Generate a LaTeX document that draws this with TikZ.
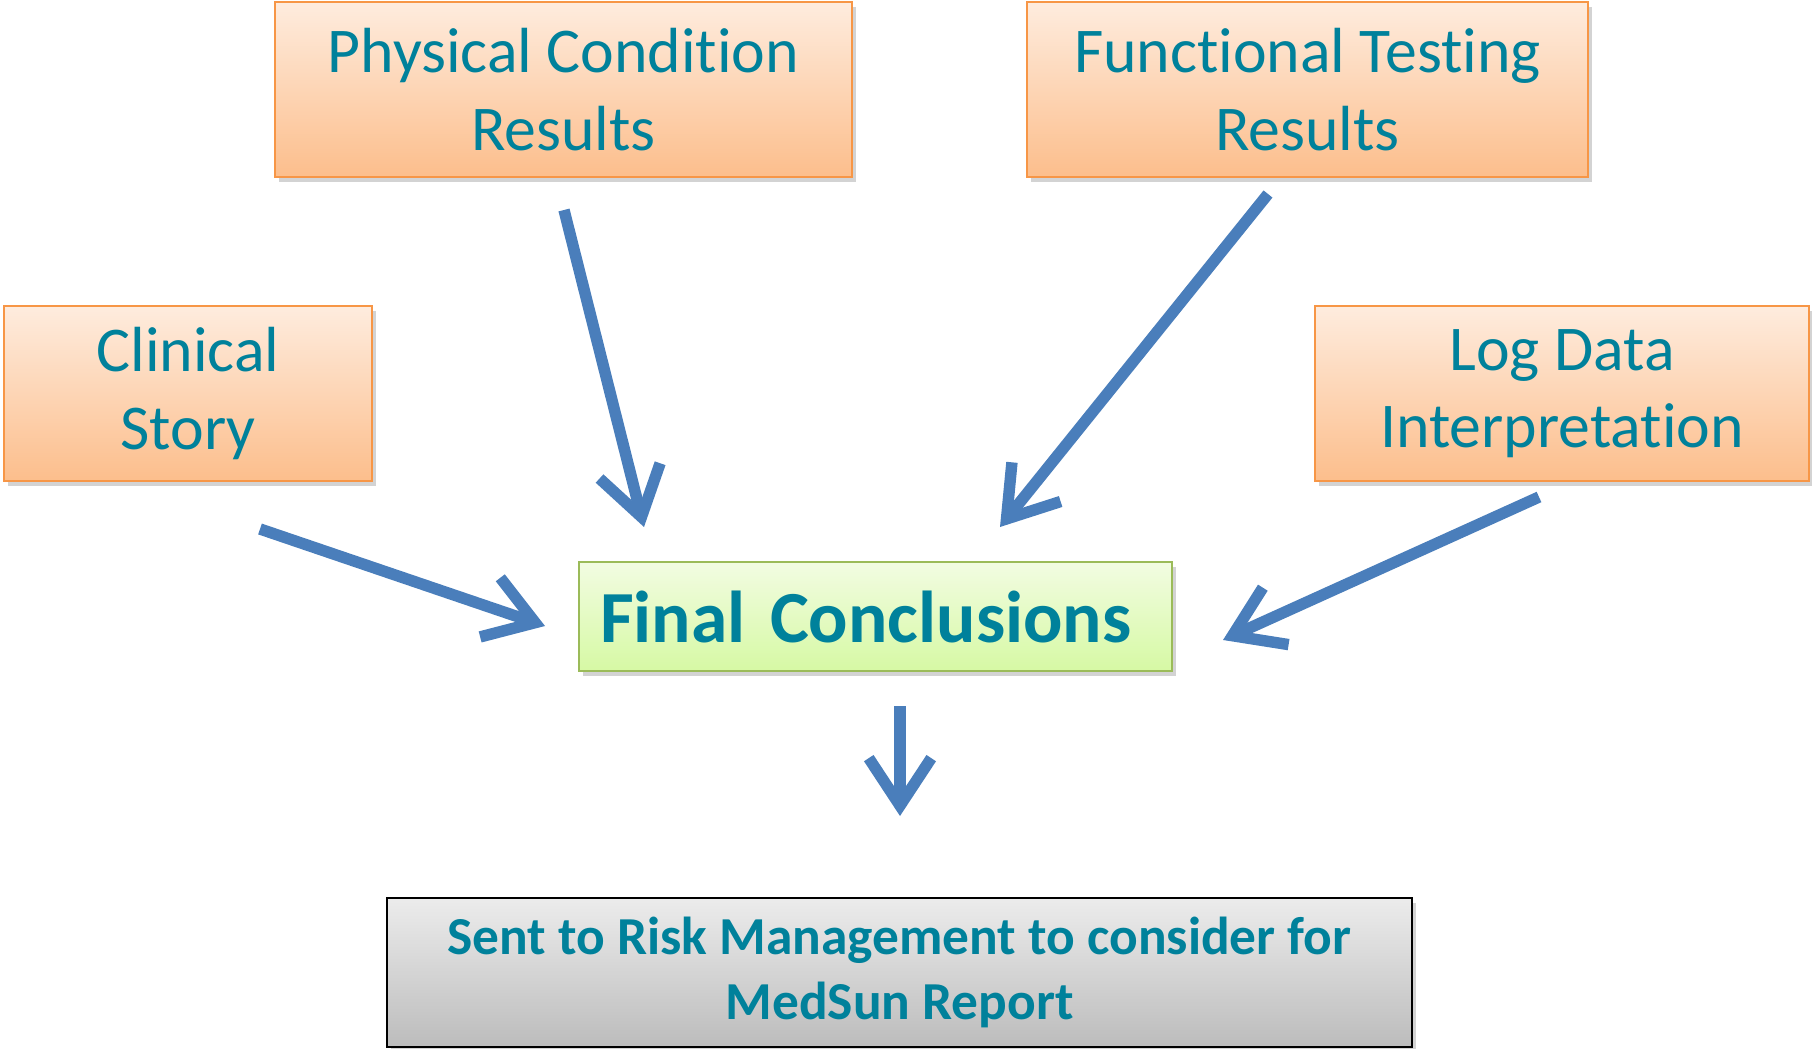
\documentclass[tikz,border=0pt]{standalone}
\usepackage{fontspec}
\setmainfont{Carlito}[Ligatures=NoCommon]
\usetikzlibrary{arrows.meta,shadows}
\definecolor{txt}{RGB}{0,129,155}
\definecolor{orbord}{RGB}{247,150,70}
\definecolor{ortop}{RGB}{254,236,222}
\definecolor{orbot}{RGB}{252,190,140}
\definecolor{grtop}{RGB}{242,252,226}
\definecolor{grbot}{RGB}{214,249,164}
\definecolor{grbord}{RGB}{155,187,89}
\definecolor{gytop}{RGB}{236,236,236}
\definecolor{gybot}{RGB}{188,188,188}
\definecolor{arr}{RGB}{74,126,187}
\tikzset{
  obox/.style={draw=orbord, line width=1.2pt, top color=ortop, bottom color=orbot,
    text=txt, align=center, font=\fontsize{36.3}{44}\selectfont, inner sep=0pt,
    drop shadow={shadow xshift=2pt, shadow yshift=-3pt, opacity=0.35}},
  barrow/.style={draw=arr, line width=6.5pt,
    -{Straight Barb[length=0.95cm, width=1.25cm]}},
}
\begin{document}
\begin{tikzpicture}[x=0.02cm, y=-0.02cm]
\useasboundingbox (0,0) rectangle (1812,1048);
\node[obox, minimum width=577*0.02cm, minimum height=175*0.02cm] (phys) at (563.5,89.5)
  {Physical Condition\\Results};
\node[obox, minimum width=561*0.02cm, minimum height=175*0.02cm] (func) at (1307.5,89.5)
  {Functional Testing\\Results};
\node[obox, minimum width=368*0.02cm, minimum height=175*0.02cm] (clin) at (188,393.5)
  {Clinical\\Story};
\node[obox, minimum width=494*0.02cm, minimum height=175*0.02cm] (logd) at (1562,393.5)
  {Log Data\\Interpretation};
\node[draw=grbord, line width=1.2pt, top color=grtop, bottom color=grbot,
  text=txt, font=\fontsize{41.8}{48}\selectfont\bfseries,
  minimum height=109*0.02cm, text width=551*0.02cm, inner xsep=21*0.02cm, align=left,
  drop shadow={shadow xshift=2pt, shadow yshift=-3pt, opacity=0.35}] (final) at (875.5,616.5)
  {Final Conclusions};
\node[draw=black, line width=1.2pt, top color=gytop, bottom color=gybot,
  text=txt, font=\fontsize{30.4}{37}\selectfont\bfseries, align=center,
  minimum width=1025*0.02cm, minimum height=149*0.02cm,
  drop shadow={shadow xshift=2pt, shadow yshift=-3pt, opacity=0.35}] (sent) at (899.5,972.5)
  {Sent to Risk Management to consider for\\MedSun Report};
\coordinate (p1) at (564,210);  \coordinate (p2) at (644,527);
\coordinate (f1) at (1268,194); \coordinate (f2) at (1000,527);
\coordinate (c1) at (260,529);  \coordinate (c2) at (545,626);
\coordinate (l1) at (1539,497); \coordinate (l2) at (1223,640);
\coordinate (d1) at (900,706);  \coordinate (d2) at (900,816);
\draw[barrow] (p1) -- (p2);
\draw[barrow] (f1) -- (f2);
\draw[barrow] (c1) -- (c2);
\draw[barrow] (l1) -- (l2);
\draw[barrow] (d1) -- (d2);
\end{tikzpicture}
\end{document}
